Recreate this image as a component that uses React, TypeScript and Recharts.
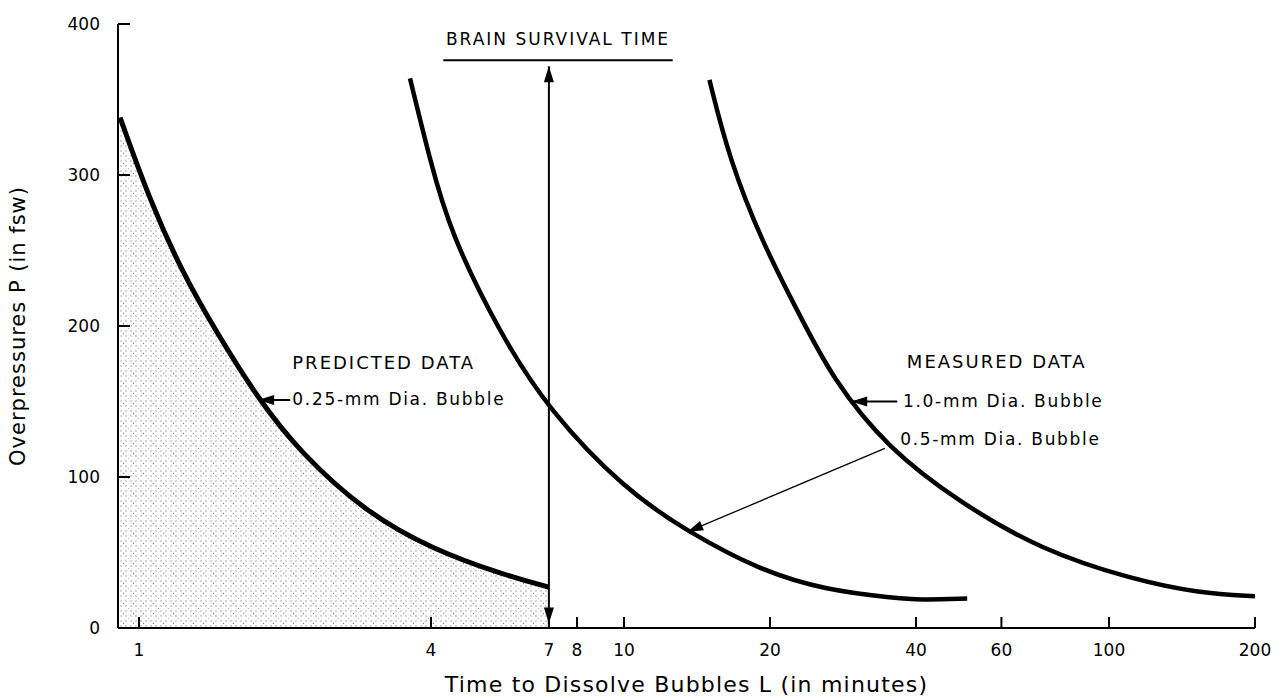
import React from "react";
import {
  ComposedChart,
  Line,
  Area,
  XAxis,
  YAxis,
  ReferenceLine,
  ReferenceDot,
} from "recharts";

// x ticks (log scale, minutes) and y ticks (fsw)
const xTicks = [1, 4, 7, 8, 10, 20, 40, 60, 100, 200];
const yTicks = [0, 100, 200, 300, 400];

// predicted 0.25-mm bubble
const predL = [0.914, 1.053, 1.23, 1.45, 1.75, 2.15, 2.95, 4.04, 5.55, 7];
const predP = [338, 283, 235, 195, 153, 116, 76, 52, 36, 27];

// measured 0.5-mm bubble
const halfL = [3.62, 3.98, 4.38, 5.55, 7, 10.1, 13.5, 19.1, 26.2, 35.9, 40.8, 51];
const halfP = [364, 310, 262, 195, 144, 91, 64, 38, 25, 20, 18.5, 19.5];

// measured 1.0-mm bubble
const oneL = [15, 16.5, 19.3, 22.7, 27, 35, 49.3, 72, 112, 154, 200];
const oneP = [363, 310, 255, 211, 164, 119, 83, 52, 32, 23, 21];

const zip = (ls: number[], ps: number[]) => ls.map((l, i) => ({ l, p: ps[i] }));
const predData = zip(predL, predP);
const halfData = zip(halfL, halfP);
const oneData = zip(oneL, oneP);

const FONT = "'DejaVu Sans', sans-serif";

const XTick = (props: any) => {
  const { x, y, payload } = props;
  return (
    <g>
      <line x1={x} y1={y} x2={x} y2={y - 11} stroke="#000" strokeWidth={2} />
      <text x={x} y={y + 28} textAnchor="middle" fontFamily={FONT} fontSize={17} fill="#000">
        {payload.value}
      </text>
    </g>
  );
};

const YTick = (props: any) => {
  const { x, y, payload } = props;
  return (
    <g>
      <line x1={x} y1={y} x2={x + 12} y2={y} stroke="#000" strokeWidth={2} />
      <text x={x - 18} y={y + 6} textAnchor="end" fontFamily={FONT} fontSize={17} fill="#000">
        {payload.value}
      </text>
    </g>
  );
};

const head = (x1: number, y1: number, x2: number, y2: number, len: number, w: number) => {
  const a = Math.atan2(y2 - y1, x2 - x1);
  const bx = x2 - len * Math.cos(a);
  const by = y2 - len * Math.sin(a);
  const px = -Math.sin(a) * w;
  const py = Math.cos(a) * w;
  return `${x2},${y2} ${bx + px},${by + py} ${bx - px},${by - py}`;
};

const Arrow = (props: any) => {
  const { x1, y1, x2, y2, both, sw = 2 } = props;
  return (
    <g>
      <line x1={x1} y1={y1} x2={x2} y2={y2} stroke="#000" strokeWidth={sw} />
      <polygon points={head(x1, y1, x2, y2, 16, 5)} fill="#000" />
      {both && <polygon points={head(x2, y2, x1, y1, 16, 5)} fill="#000" />}
    </g>
  );
};

const Note = (text: string, size = 17, spacing = 1.7) => (props: any) => (
  <text
    x={props.cx}
    y={props.cy}
    dominantBaseline="middle"
    fontFamily={FONT}
    fontSize={size}
    letterSpacing={spacing}
    fill="#000"
  >
    {text}
  </text>
);

const BrainLine = (props: any) => {
  const { x1, y1, x2, y2 } = props;
  return (
    <g>
      <line x1={x1} y1={y1} x2={x2} y2={y2} stroke="#000" strokeWidth={2} />
      <text
        x={(x1 + x2) / 2}
        y={y1 - 20}
        textAnchor="middle"
        dominantBaseline="middle"
        fontFamily={FONT}
        fontSize={17}
        letterSpacing={2}
        fill="#000"
      >
        BRAIN SURVIVAL TIME
      </text>
    </g>
  );
};

export default function App() {
  return (
    <div style={{ position: "absolute", left: 0, top: 0, background: "#fff" }}>
      <ComposedChart width={1284} height={698} margin={{ top: 24, right: 29, bottom: 0, left: 0 }}>
        <defs>
          <pattern id="dots" width="10" height="10" patternUnits="userSpaceOnUse">
            <circle cx="1" cy="1" r="0.65" fill="#333" />
            <circle cx="3.5" cy="3.5" r="0.65" fill="#333" />
            <circle cx="6" cy="6" r="0.65" fill="#333" />
            <circle cx="6" cy="1" r="0.65" fill="#333" />
            <circle cx="1" cy="6" r="0.65" fill="#333" />
            <circle cx="8.5" cy="8.5" r="0.5" fill="#555" />
          </pattern>
        </defs>
        <XAxis
          dataKey="l"
          type="number"
          scale="log"
          domain={[0.905, 200]}
          allowDataOverflow
          ticks={xTicks}
          tick={<XTick />}
          tickSize={0}
          tickMargin={0}
          tickLine={false}
          height={70}
          axisLine={{ stroke: "#000", strokeWidth: 2 }}
          label={{
            value: "Time to Dissolve Bubbles L (in minutes)",
            position: "insideBottom",
            offset: 6,
            style: { fontFamily: FONT, fontSize: 22, fill: "#000", letterSpacing: 1.2 },
          }}
        />
        <YAxis
          type="number"
          domain={[0, 400]}
          ticks={yTicks}
          tick={<YTick />}
          tickSize={0}
          tickMargin={0}
          tickLine={false}
          width={118}
          axisLine={{ stroke: "#000", strokeWidth: 2 }}
          label={{
            value: "Overpressures P (in fsw)",
            angle: -90,
            position: "insideLeft",
            offset: 18,
            style: { fontFamily: FONT, fontSize: 21, fill: "#000", textAnchor: "middle", letterSpacing: 1 },
          }}
        />
        <Area
          data={predData}
          dataKey="p"
          type="basis"
          stroke="none"
          fill="url(#dots)"
          isAnimationActive={false}
        />
        <Line data={predData} dataKey="p" type="basis" stroke="#000" strokeWidth={5} dot={false} isAnimationActive={false} />
        <Line data={halfData} dataKey="p" type="basis" stroke="#000" strokeWidth={4.5} dot={false} isAnimationActive={false} />
        <Line data={oneData} dataKey="p" type="basis" stroke="#000" strokeWidth={4.5} dot={false} isAnimationActive={false} />

        <ReferenceLine segment={[{ x: 7, y: 3 }, { x: 7, y: 372 }]} shape={(p: any) => <Arrow {...p} both />} />
        <ReferenceLine segment={[{ x: 4.24, y: 376 }, { x: 12.6, y: 376 }]} shape={<BrainLine />} />

        <ReferenceLine segment={[{ x: 2.05, y: 151 }, { x: 1.76, y: 151 }]} shape={(p: any) => <Arrow {...p} />} />
        <ReferenceLine segment={[{ x: 36.6, y: 150 }, { x: 29.4, y: 150 }]} shape={(p: any) => <Arrow {...p} />} />
        <ReferenceLine segment={[{ x: 34.5, y: 119 }, { x: 13.5, y: 63.6 }]} shape={(p: any) => <Arrow {...p} sw={1.3} />} />

        <ReferenceDot x={2.07} y={175} r={0} shape={Note("PREDICTED DATA", 18, 2)} />
        <ReferenceDot x={2.07} y={151} r={0} shape={Note("0.25-mm Dia. Bubble")} />
        <ReferenceDot x={38.3} y={175.5} r={0} shape={Note("MEASURED DATA", 18, 2)} />
        <ReferenceDot x={37.6} y={150} r={0} shape={Note("1.0-mm Dia. Bubble")} />
        <ReferenceDot x={37.1} y={124.5} r={0} shape={Note("0.5-mm Dia. Bubble")} />
      </ComposedChart>
    </div>
  );
}
